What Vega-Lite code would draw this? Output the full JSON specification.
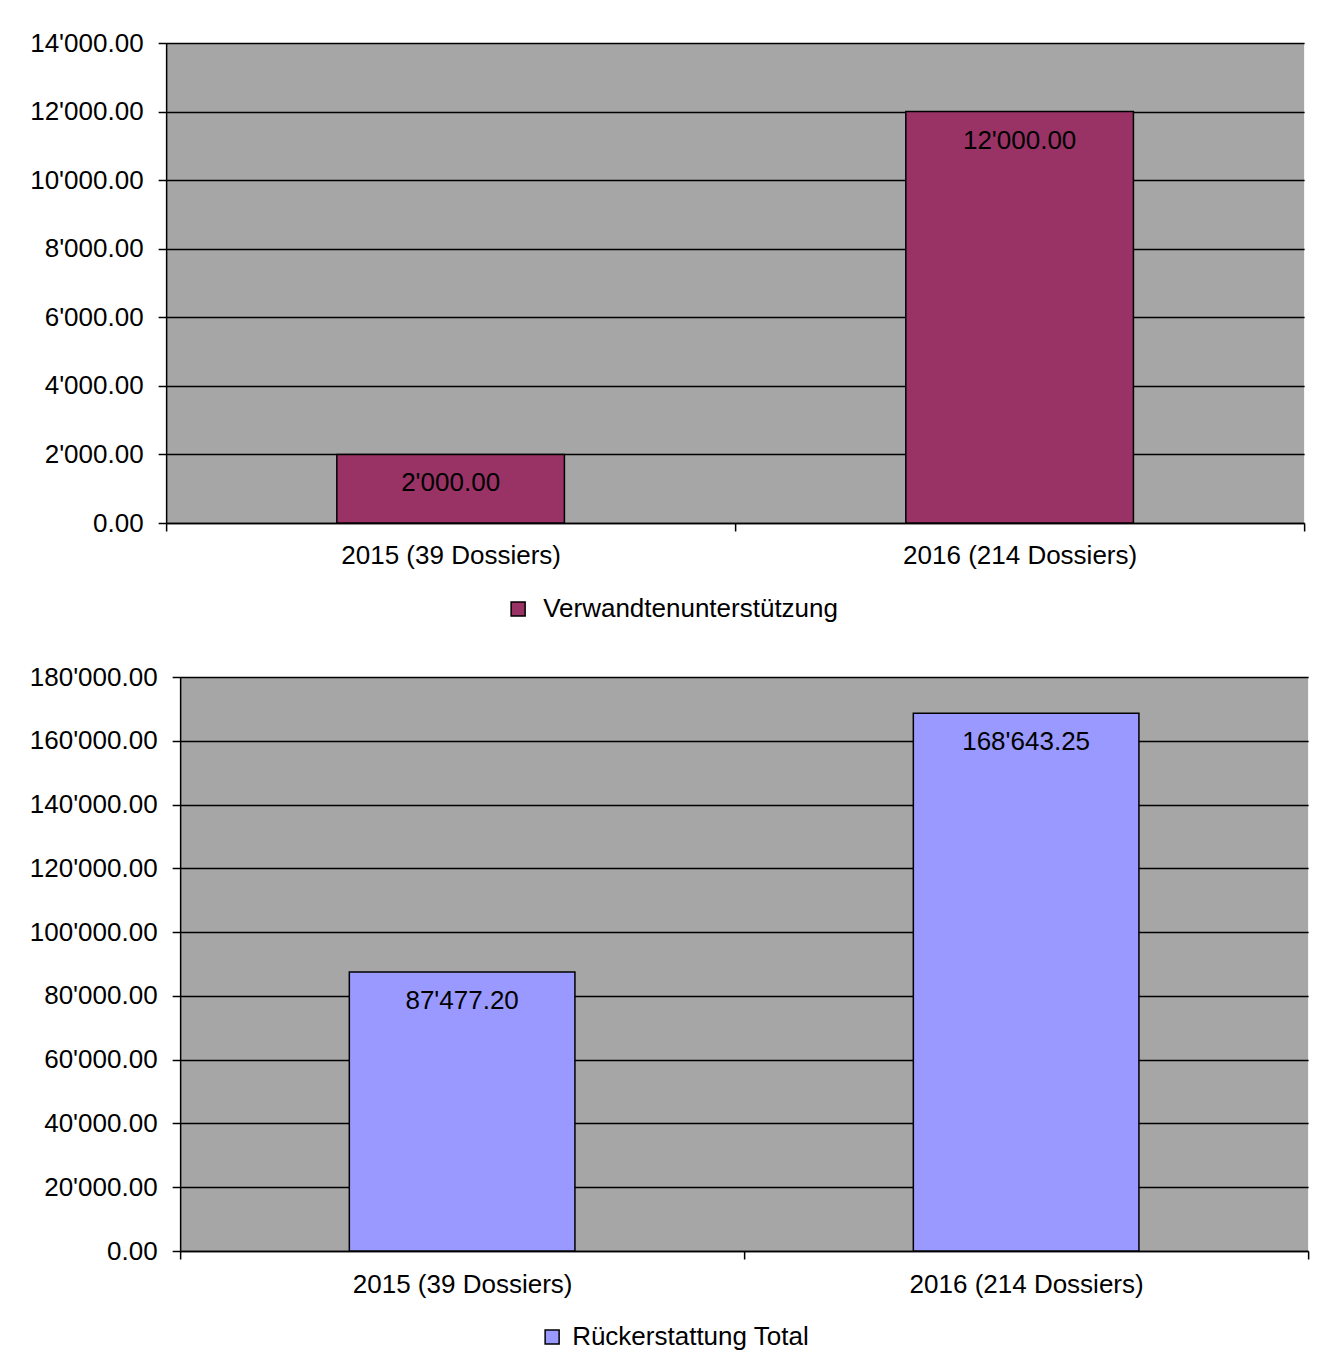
{
  "$schema": "https://vega.github.io/schema/vega-lite/v6.json",
  "background": "white",
  "padding": {"top": 30, "left": 29, "right": 0, "bottom": 0},
  "spacing": 42,
  "center": true,
  "datasets": {
    "oben": [
      {"jahr": "2015 (39 Dossiers)", "wert": 2000, "serie": "Verwandtenunterstützung"},
      {"jahr": "2016 (214 Dossiers)", "wert": 12000, "serie": "Verwandtenunterstützung"}
    ],
    "unten": [
      {"jahr": "2015 (39 Dossiers)", "wert": 87477.20, "serie": "Rückerstattung Total"},
      {"jahr": "2016 (214 Dossiers)", "wert": 168643.25, "serie": "Rückerstattung Total"}
    ]
  },
  "vconcat": [
    {
      "width": 1138,
      "height": 480,
      "data": {"name": "oben"},
      "encoding": {
        "x": {"field": "jahr", "type": "nominal", "sort": null,
          "scale": {"paddingInner": 0, "paddingOuter": 0},
          "axis": {"title": null, "labelAngle": 0, "tickBand": "extent", "labelPadding": 11}}
      },
      "layer": [
        {
          "mark": {"type": "bar", "width": {"band": 0.4}, "stroke": "black", "strokeWidth": 1.5},
          "encoding": {
            "y": {"field": "wert", "type": "quantitative",
              "scale": {"domain": [0, 14000], "nice": false},
              "axis": {"title": null, "values": [0, 2000, 4000, 6000, 8000, 10000, 12000, 14000], "format": ",.2f", "grid": true}},
            "color": {"field": "serie", "type": "nominal",
              "scale": {"range": ["#993366"]},
              "legend": {"title": null, "orient": "none", "legendX": 339, "legendY": 553, "direction": "horizontal", "labelOffset": 12}}
          }
        },
        {
          "mark": {"type": "text", "baseline": "middle", "dy": 29, "fontSize": 26, "color": "black", "font": "Liberation Sans"},
          "encoding": {
            "y": {"field": "wert", "type": "quantitative",
              "axis": {"orient": "right", "title": null, "domain": false, "labels": false, "grid": false, "values": [0], "tickSize": 18, "tickColor": "transparent"}},
            "text": {"field": "wert", "type": "quantitative", "format": ",.2f"}
          }
        }
      ],
      "resolve": {"axis": {"y": "independent"}}
    },
    {
      "width": 1128,
      "height": 574,
      "data": {"name": "unten"},
      "encoding": {
        "x": {"field": "jahr", "type": "nominal", "sort": null,
          "scale": {"paddingInner": 0, "paddingOuter": 0},
          "axis": {"title": null, "labelAngle": 0, "tickBand": "extent", "labelPadding": 12}},
        "y": {"field": "wert", "type": "quantitative",
          "scale": {"domain": [0, 180000], "nice": false},
          "axis": {"title": null, "values": [0, 20000, 40000, 60000, 80000, 100000, 120000, 140000, 160000, 180000], "format": ",.2f", "grid": true}}
      },
      "layer": [
        {
          "mark": {"type": "bar", "width": {"band": 0.4}, "stroke": "black", "strokeWidth": 1.5},
          "encoding": {
            "color": {"field": "serie", "type": "nominal",
              "scale": {"range": ["#9999ff"]},
              "legend": {"title": null, "orient": "none", "legendX": 359, "legendY": 647, "direction": "horizontal", "labelOffset": 7}}
          }
        },
        {
          "mark": {"type": "text", "baseline": "middle", "dy": 29, "fontSize": 26, "color": "black", "font": "Liberation Sans"},
          "encoding": {"text": {"field": "wert", "type": "quantitative", "format": ",.2f"}}
        }
      ]
    }
  ],
  "resolve": {"scale": {"color": "independent"}},
  "config": {
    "locale": {"number": {"decimal": ".", "thousands": "'", "grouping": [3], "currency": ["", ""]}},
    "font": "Liberation Sans",
    "view": {"fill": "#a6a6a6", "stroke": null},
    "axis": {
      "labelFont": "Liberation Sans", "labelFontSize": 26, "labelColor": "black", "labelLimit": 0,
      "domainColor": "black", "domainWidth": 1.5,
      "tickColor": "black", "tickWidth": 1.5, "tickSize": 8,
      "gridColor": "black", "gridWidth": 1.5, "gridOpacity": 1
    },
    "axisY": {"labelPadding": 15},
    "axisX": {"grid": false},
    "legend": {
      "labelFont": "Liberation Sans", "labelFontSize": 26, "labelColor": "black", "labelLimit": 0,
      "symbolType": "square", "symbolSize": 196, "symbolStrokeColor": "black", "symbolStrokeWidth": 1.5, "symbolOpacity": 1
    }
  }
}
